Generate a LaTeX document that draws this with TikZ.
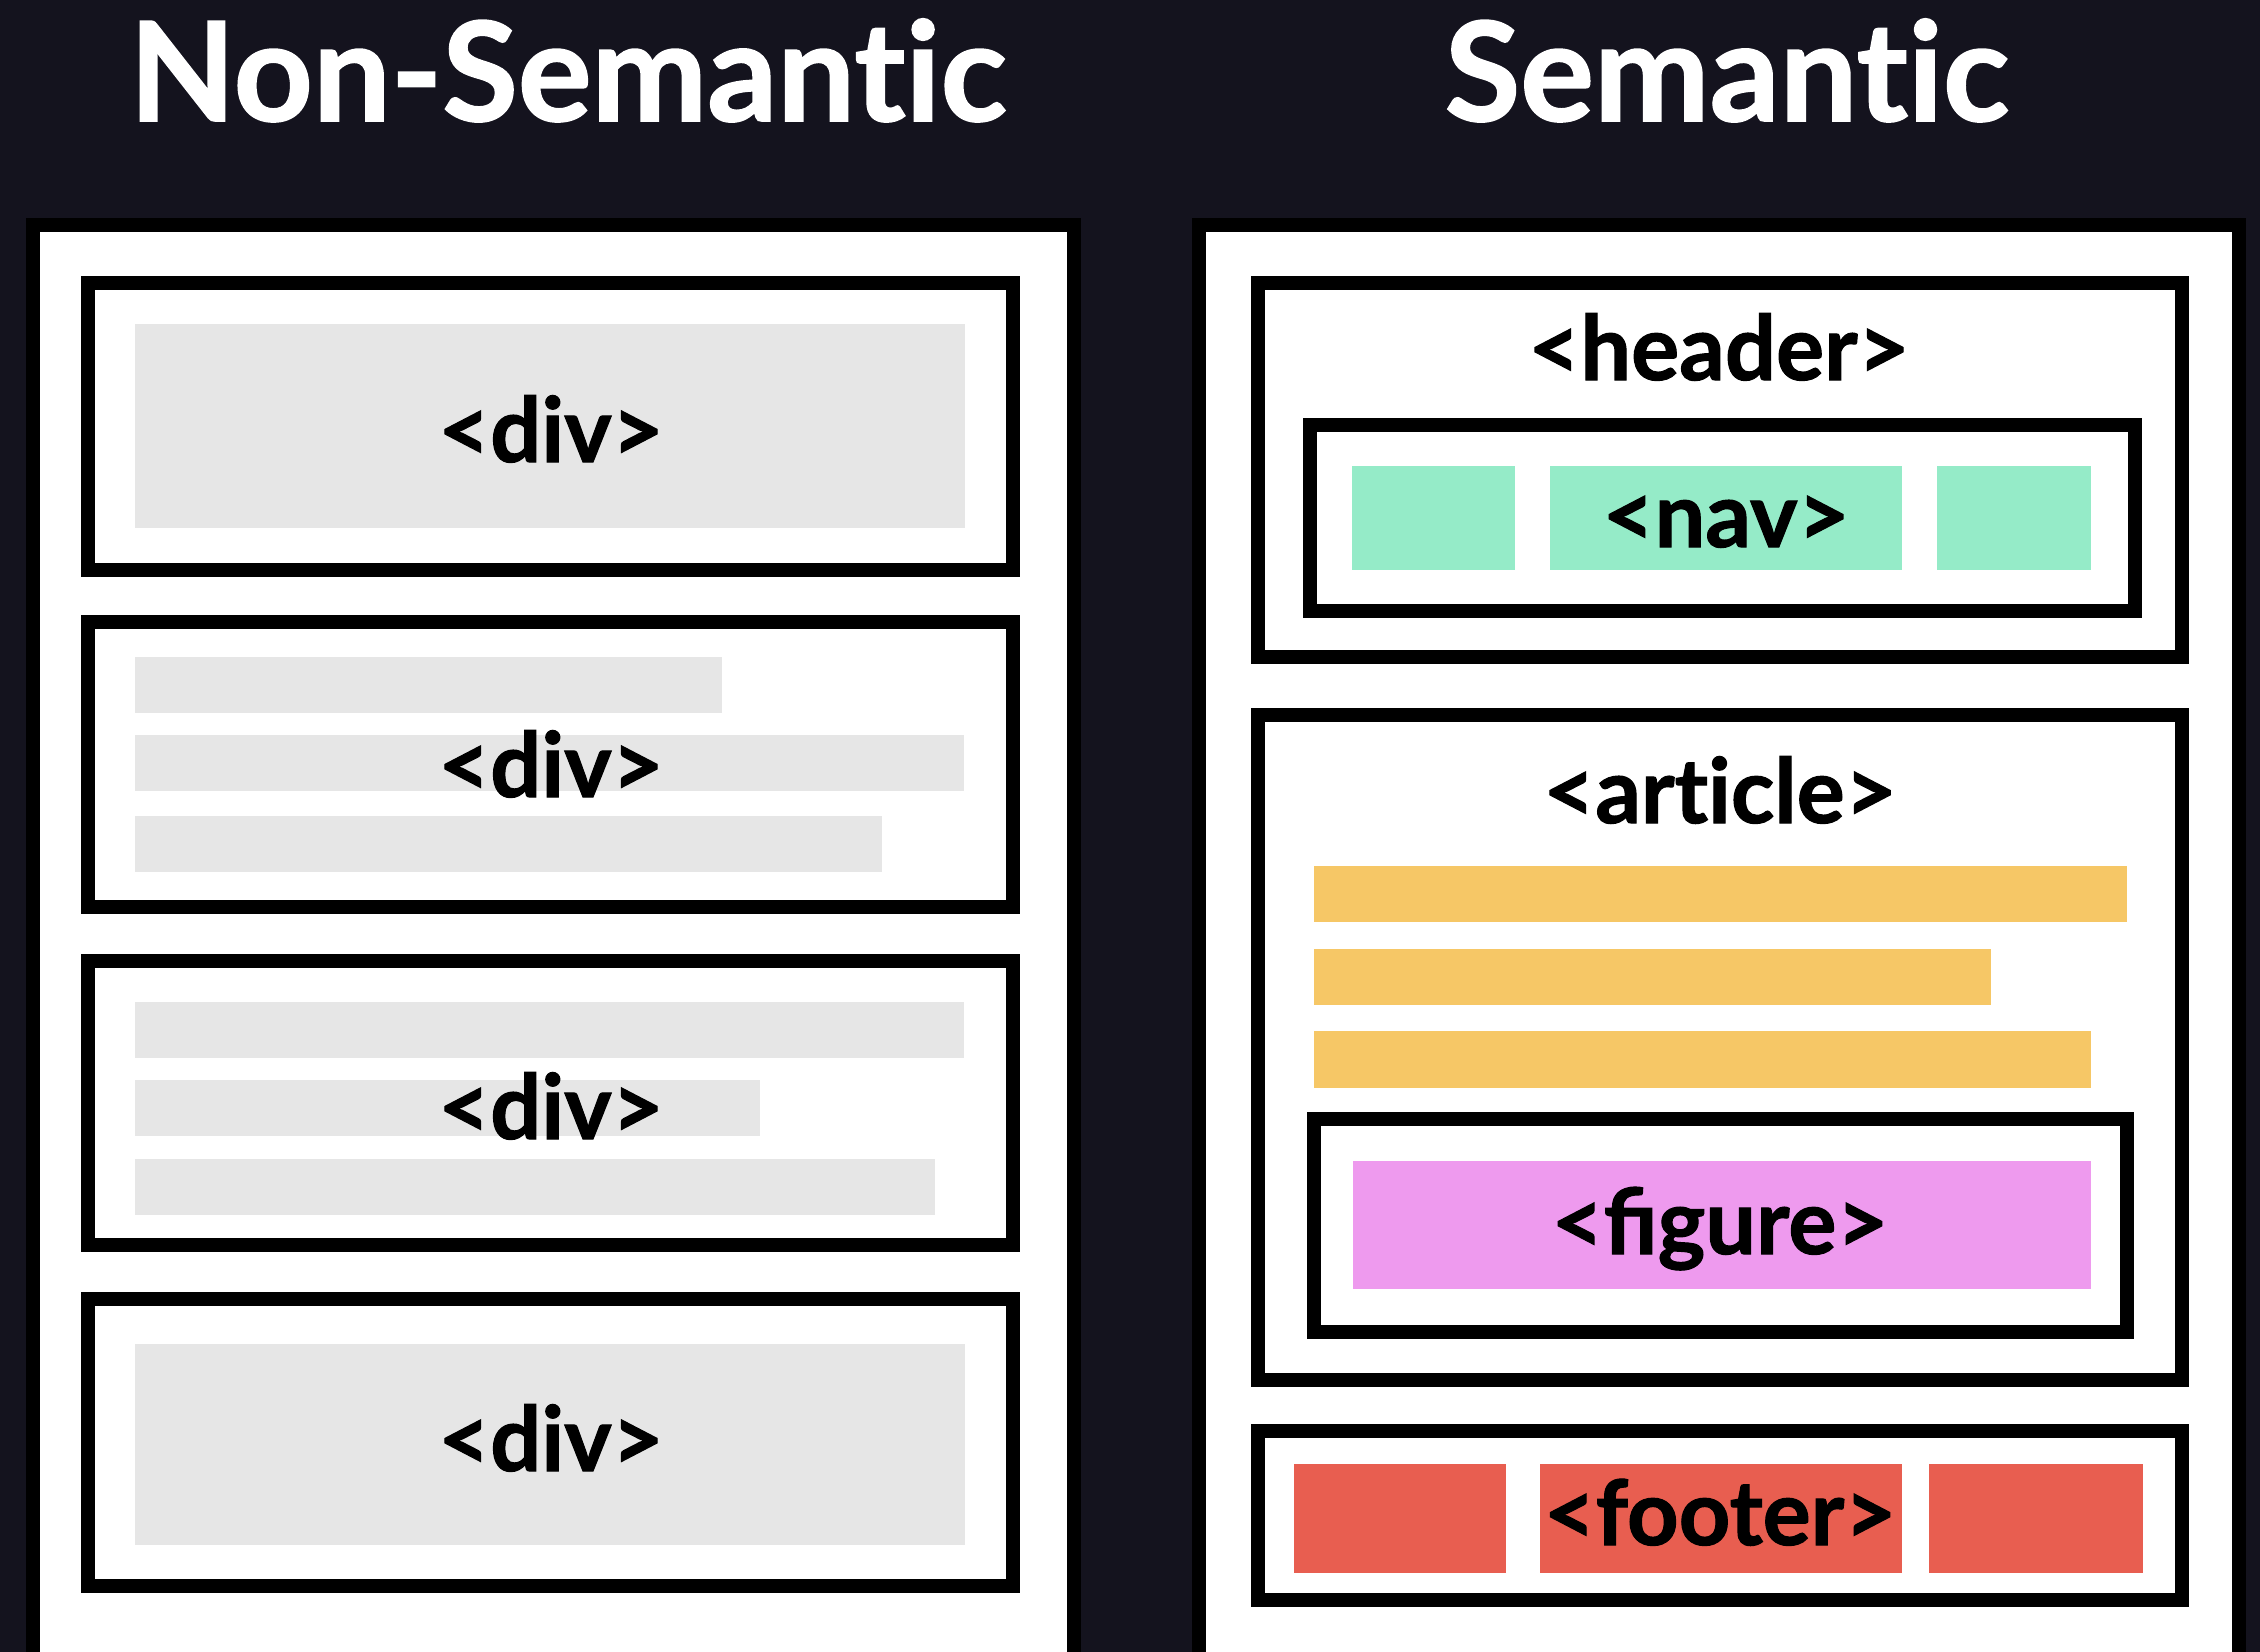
\documentclass[tikz,border=0pt]{standalone}
\usepackage{fontspec}
\setmainfont{Lato}[BoldFeatures={FakeBold=1.2}]
\definecolor{bgdark}{HTML}{14131E}
\definecolor{graybar}{HTML}{E6E6E6}
\definecolor{mint}{HTML}{95EBC8}
\definecolor{mustard}{HTML}{F6C766}
\definecolor{orchid}{HTML}{EE9AEE}
\definecolor{tomato}{HTML}{E85E50}
\newcommand{\nolig}{\kern0pt\relax}
\tikzset{
  frame/.style={draw=black, fill=white, line width=14pt},
  tagtext/.style={anchor=base, inner sep=0pt, font=\fontsize{90}{90}\selectfont\bfseries, text=black},
  titletext/.style={anchor=base, inner sep=0pt, font=\fontsize{138}{138}\selectfont\bfseries, text=white},
}
\begin{document}
\begin{tikzpicture}[x=1pt, y=-1pt]
\useasboundingbox (0,0) rectangle (2260,1652);
\clip (0,0) rectangle (2260,1652);
\fill[bgdark] (0,0) rectangle (2260,1652);

% titles
\node[titletext] (tleft) at (568,121) {Non-Semant\nolig ic};
\node[titletext] (tright) at (1727,121) {Semant\nolig ic};

% ---------- left panel ----------
\draw[frame] (33,225) rectangle (1074,1660);
\draw[frame] (88,283) rectangle (1013,570);
\draw[frame] (88,622) rectangle (1013,907);
\draw[frame] (88,961) rectangle (1013,1245);
\draw[frame] (88,1299) rectangle (1013,1586);

\fill[graybar] (135,324) rectangle (965,528);
\fill[graybar] (135,657) rectangle (722,713);
\fill[graybar] (135,735) rectangle (964,791);
\fill[graybar] (135,816) rectangle (882,872);
\fill[graybar] (135,1002) rectangle (964,1058);
\fill[graybar] (135,1080) rectangle (760,1136);
\fill[graybar] (135,1159) rectangle (935,1215);
\fill[graybar] (135,1344) rectangle (965,1545);

\node[tagtext] (div1) at (551,462) {<div>};
\node[tagtext] (div2) at (551,797) {<div>};
\node[tagtext] (div3) at (551,1139) {<div>};
\node[tagtext] (div4) at (551,1471) {<div>};

% ---------- right panel ----------
\draw[frame] (1199,225) rectangle (2239,1660);
\draw[frame] (1258,283) rectangle (2182,657);
\draw[frame] (1310,425) rectangle (2135,611);
\draw[frame] (1258,715) rectangle (2182,1380);
\draw[frame] (1314,1119) rectangle (2127,1332);
\draw[frame] (1258,1431) rectangle (2182,1600);

\fill[mint] (1352,466) rectangle (1515,570);
\fill[mint] (1550,466) rectangle (1902,570);
\fill[mint] (1937,466) rectangle (2091,570);

\fill[mustard] (1314,866) rectangle (2127,922);
\fill[mustard] (1314,949) rectangle (1991,1005);
\fill[mustard] (1314,1031) rectangle (2091,1088);

\fill[orchid] (1353,1161) rectangle (2091,1289);

\fill[tomato] (1294,1464) rectangle (1506,1573);
\fill[tomato] (1540,1464) rectangle (1902,1573);
\fill[tomato] (1929,1464) rectangle (2143,1573);

\node[tagtext] (header) at (1719,380) {<header>};
\node[tagtext] (nav) at (1726,547) {<nav>};
\node[tagtext] (article) at (1720,823) {<art\nolig icle>};
\node[tagtext] (figure) at (1720,1254) {<figure>};
\node[tagtext] (footer) at (1720,1545) {<footer>};
\end{tikzpicture}
\end{document}
